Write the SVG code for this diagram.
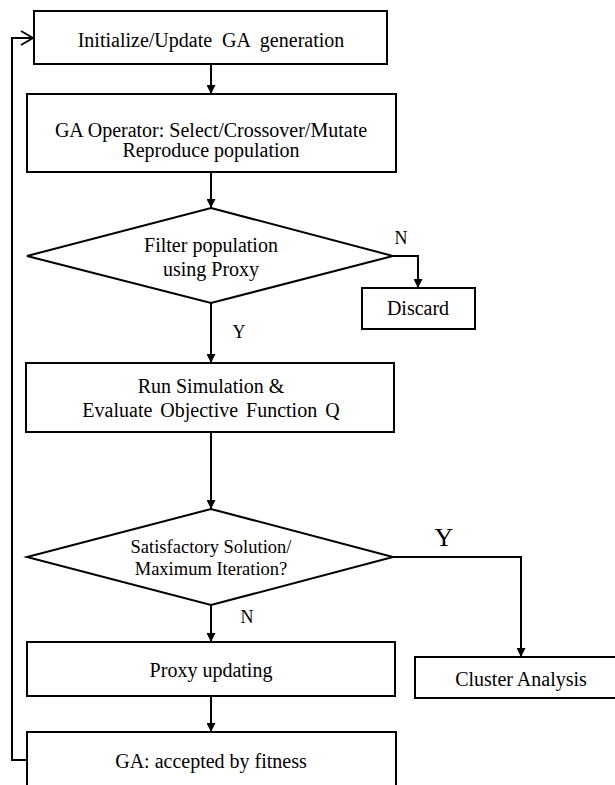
<svg xmlns="http://www.w3.org/2000/svg" width="615" height="785" viewBox="0 0 615 785">
  <style>
    .box { fill: #ffffff; stroke: #000000; stroke-width: 2; }
    .lbl { font-family: "Liberation Serif", "Times New Roman", serif; font-size: 20px; fill: #000000; text-anchor: middle; }
    .sm { font-size: 18.5px; }
    .yn { font-size: 18px; }
    .big { font-size: 26px; }
    .wire { fill: none; stroke: #000000; stroke-width: 2; }
  </style>
  <defs>
    <marker id="arrow" viewBox="0 0 10 10" refX="10" refY="5" markerWidth="10" markerHeight="9" markerUnits="userSpaceOnUse" orient="auto">
      <path d="M0,0 L10,5 L0,10 Z" fill="#000000"/>
    </marker>
    <marker id="open" viewBox="0 0 14 16" refX="13" refY="8" markerWidth="14" markerHeight="16" markerUnits="userSpaceOnUse" orient="auto">
      <path d="M1,1 L13,8 L1,15" fill="none" stroke="#000000" stroke-width="1.8"/>
    </marker>
  </defs>
  <rect width="615" height="785" fill="#ffffff"/>

  <g id="connectors">
    <line class="wire" x1="211" y1="64" x2="211" y2="94" marker-end="url(#arrow)"/>
    <line class="wire" x1="211" y1="172" x2="211" y2="208" marker-end="url(#arrow)"/>
    <polyline class="wire" points="393,256 418,256 418,288" marker-end="url(#arrow)"/>
    <line class="wire" x1="211" y1="303" x2="211" y2="363" marker-end="url(#arrow)"/>
    <line class="wire" x1="211" y1="432" x2="211" y2="509" marker-end="url(#arrow)"/>
    <polyline class="wire" points="393,557 521,557 521,657" marker-end="url(#arrow)"/>
    <line class="wire" x1="211" y1="605" x2="211" y2="642" marker-end="url(#arrow)"/>
    <line class="wire" x1="211" y1="696" x2="211" y2="732" marker-end="url(#arrow)"/>
    <polyline class="wire" points="27,760 12,760 12,38 33,38" marker-end="url(#open)"/>
    <text class="lbl yn" x="401" y="244">N</text>
    <text class="lbl yn" x="239" y="338">Y</text>
    <text class="lbl big" x="444" y="546">Y</text>
    <text class="lbl yn" x="247" y="623">N</text>
  </g>

  <g id="init">
    <rect class="box" x="34" y="11" width="353" height="53"/>
    <text class="lbl" x="211" y="47" word-spacing="5">Initialize/Update GA generation</text>
  </g>

  <g id="operator">
    <rect class="box" x="27" y="94" width="369" height="78"/>
    <text class="lbl" x="211" y="137">GA Operator: Select/Crossover/Mutate</text>
    <text class="lbl" x="211" y="157">Reproduce population</text>
  </g>

  <g id="filter">
    <polygon class="box" points="211,208 393,256 211,303 27,256"/>
    <text class="lbl" x="211" y="252">Filter population</text>
    <text class="lbl" x="211" y="276">using Proxy</text>
  </g>

  <g id="discard">
    <rect class="box" x="362" y="288" width="113" height="41"/>
    <text class="lbl" x="418" y="315">Discard</text>
  </g>

  <g id="simulate">
    <rect class="box" x="26" y="363" width="368" height="69"/>
    <text class="lbl" x="211" y="393">Run Simulation &amp;</text>
    <text class="lbl" x="211" y="417" word-spacing="3">Evaluate Objective Function Q</text>
  </g>

  <g id="check">
    <polygon class="box" points="211,509 393,557 211,605 27,557"/>
    <text class="lbl sm" x="211" y="553">Satisfactory Solution/</text>
    <text class="lbl sm" x="211" y="575">Maximum Iteration?</text>
  </g>

  <g id="proxy">
    <rect class="box" x="27" y="642" width="368" height="54"/>
    <text class="lbl" x="211" y="677">Proxy updating</text>
  </g>

  <g id="cluster">
    <rect class="box" x="415" y="657" width="212" height="41"/>
    <text class="lbl" x="521" y="686">Cluster Analysis</text>
  </g>

  <g id="accept">
    <rect class="box" x="27" y="732" width="369" height="70"/>
    <text class="lbl" x="211" y="768">GA: accepted by fitness</text>
  </g>
</svg>
